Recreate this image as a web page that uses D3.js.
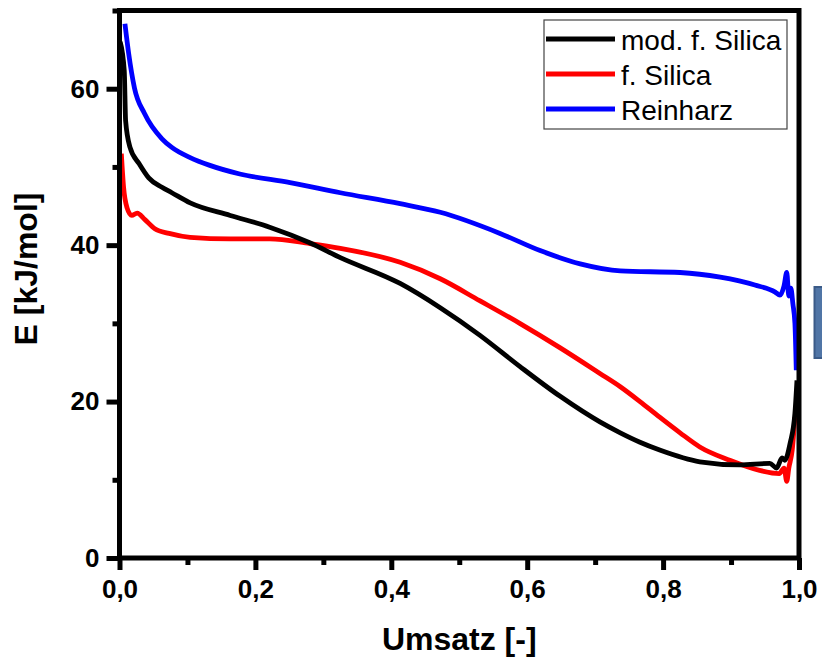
<!DOCTYPE html>
<html>
<head>
<meta charset="utf-8">
<script src="https://cdn.jsdelivr.net/npm/d3@7"></script>
<style>
  html, body { margin: 0; padding: 0; background: #fff; }
  svg { display: block; }
  text { font-family: "Liberation Sans", Arial, Helvetica, sans-serif; }
</style>
</head>
<body>
<svg id="chart" width="822" height="660"></svg>
<script>
// Conversion (Umsatz) vs. activation energy E for three resin systems
const seriesNames = ["mod. f. Silica", "f. Silica", "Reinharz"];
const seriesColors = ["#000000", "#ff0000", "#0000ff"];

const modSilicaX = [0.001, 0.007, 0.009, 0.0155, 0.029, 0.043, 0.0625, 0.077, 0.104, 0.163, 0.221, 0.280, 0.325, 0.413, 0.472, 0.530, 0.589, 0.648, 0.707, 0.737, 0.766, 0.795, 0.854, 0.913, 0.957, 0.967, 0.975, 0.979, 0.987, 0.994, 0.997];
const modSilicaE = [66.0, 62.3, 55.9, 52.5, 50.4, 48.6, 47.4, 46.7, 45.4, 43.8, 42.3, 40.3, 38.4, 35.1, 32.0, 28.5, 24.5, 20.7, 17.4, 16.0, 14.8, 13.8, 12.3, 11.9, 12.1, 11.5, 12.8, 12.5, 14.7, 18.5, 22.7];

const silicaX = [0.0027, 0.006, 0.011, 0.018, 0.026, 0.037, 0.052, 0.073, 0.104, 0.163, 0.221, 0.280, 0.325, 0.413, 0.472, 0.530, 0.589, 0.648, 0.707, 0.737, 0.766, 0.795, 0.825, 0.854, 0.898, 0.942, 0.971, 0.978, 0.982, 0.985, 0.990, 0.994];
const silicaE = [51.7, 47.4, 44.8, 43.8, 44.1, 43.3, 42.1, 41.5, 41.0, 40.8, 40.8, 40.2, 39.6, 37.8, 35.7, 32.9, 30.0, 26.9, 23.6, 21.9, 20.0, 18.0, 16.0, 14.2, 12.5, 11.2, 10.8, 11.5, 9.8, 11.5, 13.8, 18.0];

const reinharzX = [0.008, 0.0135, 0.022, 0.037, 0.0625, 0.077, 0.104, 0.133, 0.177, 0.251, 0.325, 0.413, 0.472, 0.560, 0.619, 0.678, 0.737, 0.825, 0.884, 0.935, 0.965, 0.972, 0.978, 0.982, 0.985, 0.988, 0.991, 0.994, 0.996];
const reinharzE = [68.3, 64.5, 60.1, 56.8, 53.6, 52.5, 51.2, 50.2, 49.1, 48.0, 46.7, 45.3, 44.2, 41.5, 39.3, 37.6, 36.7, 36.5, 35.9, 34.9, 34.0, 33.6, 34.8, 36.5, 33.5, 34.5, 32.5, 30.0, 24.0];

const xMajorTicks = [0, 0.2, 0.4, 0.6, 0.8, 1.0];
const xMinorTicks = [0.1, 0.3, 0.5, 0.7, 0.9];
const yMajorTicks = [0, 20, 40, 60];
const yMinorTicks = [10, 30, 50, 70];

const xTitle = "Umsatz [-]";
const yTitle = "E [kJ/mol]";

const series = [
  { name: seriesNames[0], color: seriesColors[0], xs: modSilicaX, ys: modSilicaE },
  { name: seriesNames[1], color: seriesColors[1], xs: silicaX, ys: silicaE },
  { name: seriesNames[2], color: seriesColors[2], xs: reinharzX, ys: reinharzE }
];

const plot = { left: 119.5, right: 799, top: 10.5, bottom: 558 };
const svg = d3.select("#chart");

const x = d3.scaleLinear().domain([0, 1]).range([plot.left, plot.right]);
const y = d3.scaleLinear().domain([0, 70]).range([plot.bottom, plot.top]);

const fmtX = d => d.toFixed(1).replace(".", ",");

// curves (drawn first so the frame covers their ends)
const line = d3.line().x(d => x(d[0])).y(d => y(d[1])).curve(d3.curveMonotoneX);
const drawOrder = [2, 1, 0];
drawOrder.forEach(i => {
  const s = series[i];
  svg.append("path")
    .datum(s.xs.map((v, k) => [v, s.ys[k]]))
    .attr("d", line)
    .attr("fill", "none")
    .attr("stroke", s.color)
    .attr("stroke-width", 4.8)
    .attr("stroke-linejoin", "round")
    .attr("stroke-linecap", "butt");
});

// axes
function styleAxis(g) {
  g.select(".domain").remove();
  g.selectAll(".tick line").attr("stroke", "#000").attr("stroke-width", 5);
  g.selectAll(".tick text")
    .attr("fill", "#000")
    .style("font-size", "26px")
    .style("font-weight", "bold");
}

svg.append("g")
  .attr("transform", `translate(0,${plot.bottom})`)
  .call(d3.axisBottom(x).tickValues(xMinorTicks).tickSize(7).tickFormat(""))
  .call(styleAxis);
svg.append("g")
  .attr("transform", `translate(0,${plot.bottom})`)
  .call(d3.axisBottom(x).tickValues(xMajorTicks).tickSize(12).tickPadding(10).tickFormat(fmtX))
  .call(styleAxis);

svg.append("g")
  .attr("transform", `translate(${plot.left},0)`)
  .call(d3.axisLeft(y).tickValues(yMinorTicks).tickSize(7).tickFormat(""))
  .call(styleAxis);
svg.append("g")
  .attr("transform", `translate(${plot.left},0)`)
  .call(d3.axisLeft(y).tickValues(yMajorTicks).tickSize(13).tickPadding(7).tickFormat(d3.format("d")))
  .call(styleAxis);

// frame
svg.append("rect")
  .attr("x", plot.left).attr("y", plot.top)
  .attr("width", plot.right - plot.left).attr("height", plot.bottom - plot.top)
  .attr("fill", "none").attr("stroke", "#000").attr("stroke-width", 5)
  .attr("stroke-linejoin", "miter");

// axis titles
svg.append("text")
  .attr("x", (plot.left + plot.right) / 2)
  .attr("y", 650)
  .attr("text-anchor", "middle")
  .style("font-size", "32px").style("font-weight", "bold")
  .text(xTitle);

svg.append("text")
  .attr("transform", `translate(37,269) rotate(-90)`)
  .attr("text-anchor", "middle")
  .style("font-size", "32px").style("font-weight", "bold")
  .text(yTitle);

// legend
const legend = svg.append("g").attr("transform", "translate(544,20)");
legend.append("rect")
  .attr("x", 0).attr("y", 0).attr("width", 243).attr("height", 109)
  .attr("fill", "#fff").attr("stroke", "#444").attr("stroke-width", 1.2);
series.forEach((s, i) => {
  const ly = 19 + i * 35;
  legend.append("line")
    .attr("x1", 2).attr("x2", 71).attr("y1", ly).attr("y2", ly)
    .attr("stroke", s.color).attr("stroke-width", 5);
  legend.append("text")
    .attr("x", 77).attr("y", ly + 11)
    .style("font-size", "28px")
    .attr("fill", "#000")
    .text(s.name);
});

// small panel edge at the right border
svg.append("rect")
  .attr("x", 814.5).attr("y", 287).attr("width", 12).attr("height", 71)
  .attr("fill", "#5075a6").attr("stroke", "#3b5b88").attr("stroke-width", 2);
</script>
</body>
</html>
